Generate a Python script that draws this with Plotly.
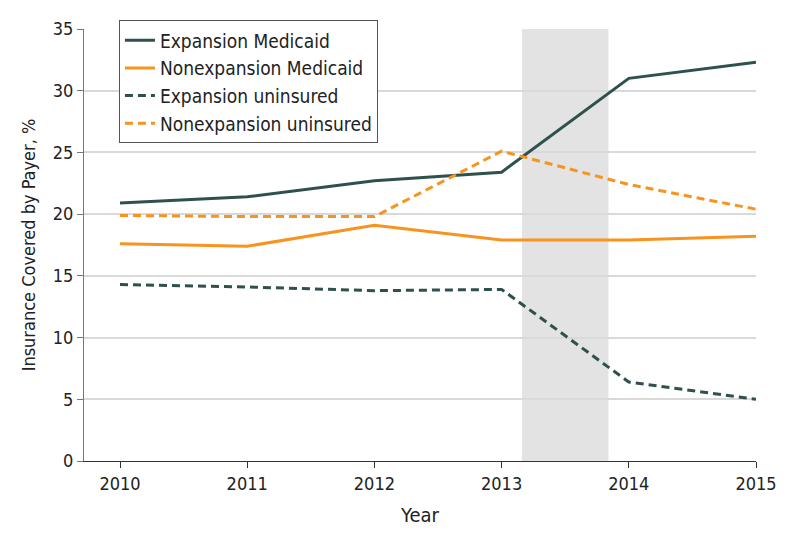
import plotly.graph_objs as go

years = [2010, 2011, 2012, 2013, 2014, 2015]
expansion_medicaid = [20.9, 21.4, 22.7, 23.4, 31.0, 32.3]
nonexpansion_medicaid = [17.6, 17.4, 19.1, 17.9, 17.9, 18.2]
expansion_uninsured = [14.3, 14.1, 13.8, 13.9, 6.4, 5.0]
nonexpansion_uninsured = [19.9, 19.8, 19.8, 25.1, 22.4, 20.4]

# shaded period between the 2013 and 2014 surveys
shade_start = 2013.16
shade_end = 2013.84

teal = '#2e514d'
orange = '#f7931e'
font = 'DejaVu Sans Condensed, Open Sans, sans-serif'
dashes = '8px,5px'

fig = go.Figure()
fig.add_trace(go.Scatter(x=years, y=expansion_medicaid, mode='lines', name='Expansion Medicaid',
                         line=dict(color=teal, width=3)))
fig.add_trace(go.Scatter(x=years, y=nonexpansion_medicaid, mode='lines', name='Nonexpansion Medicaid',
                         line=dict(color=orange, width=3)))
fig.add_trace(go.Scatter(x=years, y=expansion_uninsured, mode='lines', name='Expansion uninsured',
                         line=dict(color=teal, width=3, dash=dashes)))
fig.add_trace(go.Scatter(x=years, y=nonexpansion_uninsured, mode='lines', name='Nonexpansion uninsured',
                         line=dict(color=orange, width=3, dash=dashes)))

fig.add_vrect(x0=shade_start, x1=shade_end, fillcolor='#e3e3e3', line_width=0, layer='below')

fig.update_layout(
    width=794, height=546,
    margin=dict(l=76, r=46, t=21, b=93),
    plot_bgcolor='white', paper_bgcolor='white',
    font=dict(family=font, size=18, color='#222'),
    showlegend=True,
    legend=dict(x=0.052, y=1.02, xanchor='left', yanchor='top',
                bgcolor='white', bordercolor='#555', borderwidth=1,
                font=dict(size=19), tracegroupgap=0),
    xaxis=dict(title=dict(text='Year', standoff=15, font=dict(family=font, size=20, color='#222')),
               range=[2009.717, 2015],
               tickvals=years, ticks='outside', ticklen=6, tickcolor='#333',
               showline=True, linecolor='#333', linewidth=1.2,
               showgrid=False, zeroline=False, automargin=False),
    yaxis=dict(title=dict(text='Insurance Covered by Payer, %', standoff=12,
                          font=dict(family=font, size=18, color='#222')),
               range=[0, 35],
               dtick=5, ticks='outside', ticklen=6, tickcolor='#777',
               showline=True, linecolor='#777', linewidth=1.2,
               showgrid=True, gridcolor='#d9d9d9', gridwidth=1.5, zeroline=False, automargin=False),
)

fig.write_html("out.html")
